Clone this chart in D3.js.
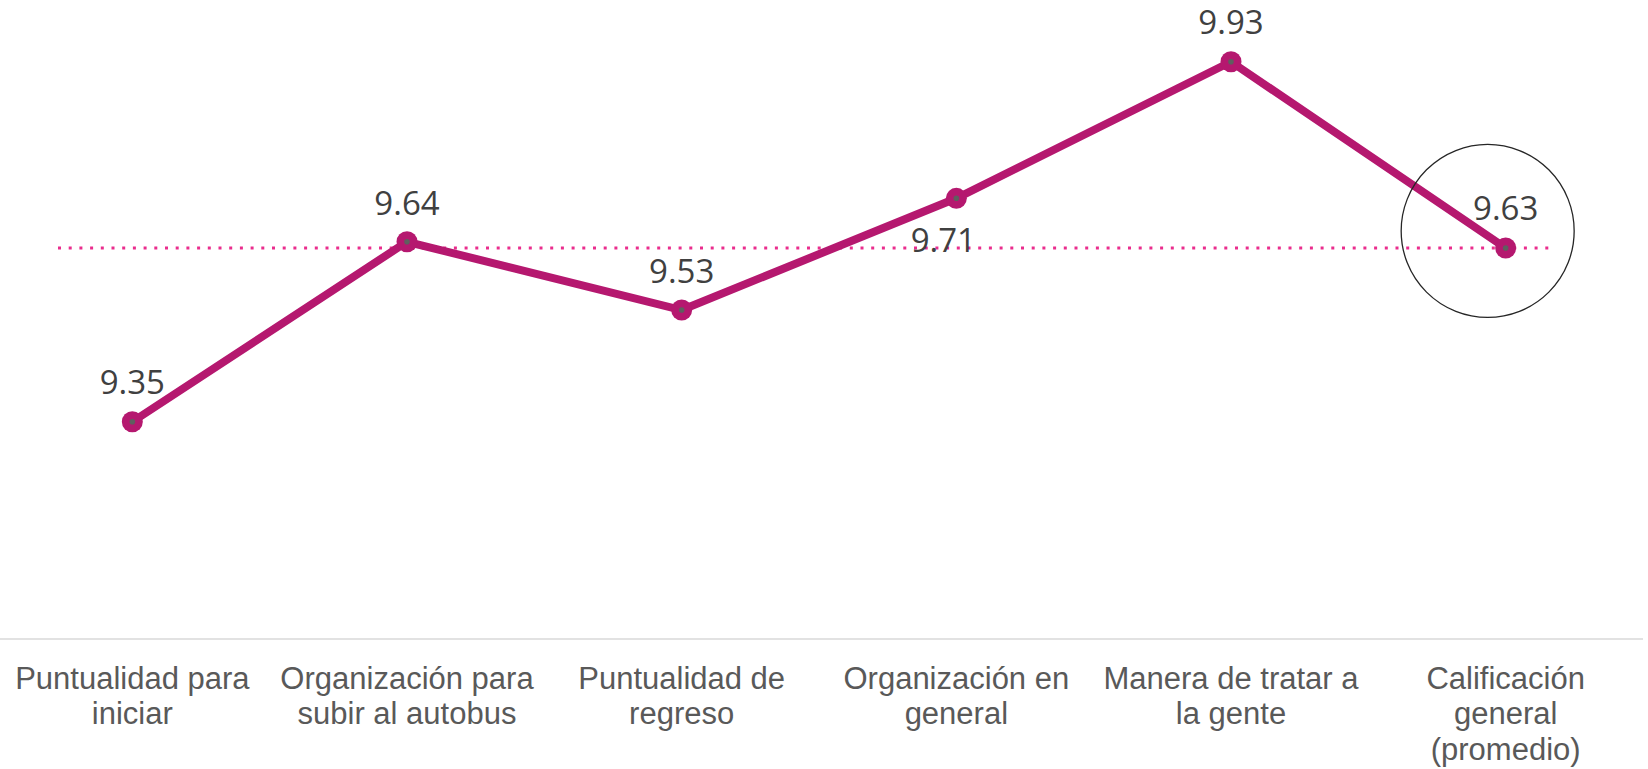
<!DOCTYPE html>
<html>
<head>
<meta charset="utf-8">
<script src="https://cdn.jsdelivr.net/npm/d3@7"></script>
<style>
  html, body { margin: 0; padding: 0; background: #fff; }
  svg { display: block; }
</style>
</head>
<body>
<svg id="chart" width="1648" height="769"></svg>
<script>
// chart data
const categories = [
  'Puntualidad para iniciar',
  'Organización para subir al autobus',
  'Puntualidad de regreso',
  'Organización en general',
  'Manera de tratar a la gente',
  'Calificación general (promedio)'
];
// how each category label is broken into lines
const categoryLines = [
  ['Puntualidad para', 'iniciar'],
  ['Organización para', 'subir al autobus'],
  ['Puntualidad de', 'regreso'],
  ['Organización en', 'general'],
  ['Manera de tratar a', 'la gente'],
  ['Calificación', 'general', '(promedio)']
];
const scores = [9.35, 9.64, 9.53, 9.71, 9.93, 9.63];
const average = 9.63;
const yDomain = [9, 10];

const svg = d3.select('#chart');
const width = +svg.attr('width');

const xScale = d3.scaleBand()
  .domain(categories)
  .range([-5, 1643]);

const yScale = d3.scaleLinear()
  .domain(yDomain)
  .range([639, 18.3]);

const cx = d => xScale(d) + xScale.bandwidth() / 2;

// x axis
const xAxis = d3.axisBottom(xScale).tickSize(0).tickFormat('');
const xAxisG = svg.append('g')
  .attr('transform', `translate(0,${yScale(yDomain[0])})`)
  .call(xAxis);
xAxisG.select('.domain')
  .attr('d', `M0,0H${width - 5}`)
  .attr('stroke', '#d9d9d9')
  .attr('stroke-width', 1.5);

xAxisG.selectAll('.tick').each(function(d, i) {
  const t = d3.select(this).append('text')
    .attr('fill', '#595959')
    .attr('font-family', '"Liberation Sans", Arial, sans-serif')
    .attr('font-size', 31)
    .attr('text-anchor', 'middle')
    .attr('y', 49.5);
  categoryLines[i].forEach((line, j) => {
    t.append('tspan')
      .attr('x', 0)
      .attr('dy', j === 0 ? 0 : 35.5)
      .text(line);
  });
});

// average dotted line
svg.append('line')
  .attr('x1', 58)
  .attr('x2', 1553)
  .attr('y1', yScale(average))
  .attr('y2', yScale(average))
  .attr('stroke', '#ea2d8d')
  .attr('stroke-width', 3)
  .attr('stroke-dasharray', '3,7.7');

// series line
const line = d3.line()
  .x((d, i) => cx(categories[i]))
  .y(d => yScale(d));

svg.append('path')
  .datum(scores)
  .attr('d', line)
  .attr('fill', 'none')
  .attr('stroke', '#b5186f')
  .attr('stroke-width', 8);

const points = svg.selectAll('.pt').data(scores)
  .enter().append('g')
    .attr('class', 'pt')
    .attr('transform', (d, i) => `translate(${cx(categories[i])},${yScale(d)})`);

points.append('circle')
  .attr('r', 10.5)
  .attr('fill', '#b5186f');
points.append('circle')
  .attr('r', 2.8)
  .attr('fill', '#5f5f5f');

// data labels (9.71 sits below its point)
const labelDx = [0, 0, 0, -13, 0, 0];
const labelDy = [-28, -27, -27, 54, -28, -28];
points.append('text')
  .attr('x', (d, i) => labelDx[i])
  .attr('y', (d, i) => labelDy[i])
  .attr('text-anchor', 'middle')
  .attr('fill', '#404040')
  .attr('font-family', '"Open Sans", "Noto Sans", sans-serif')
  .attr('font-size', 33)
  .text(d => d.toFixed(2));

// highlight ring around the general score
const last = categories.length - 1;
svg.append('circle')
  .attr('cx', cx(categories[last]) - 18)
  .attr('cy', yScale(scores[last]) - 17)
  .attr('r', 86.5)
  .attr('fill', 'none')
  .attr('stroke', '#262626')
  .attr('stroke-width', 1.3);
</script>
</body>
</html>
